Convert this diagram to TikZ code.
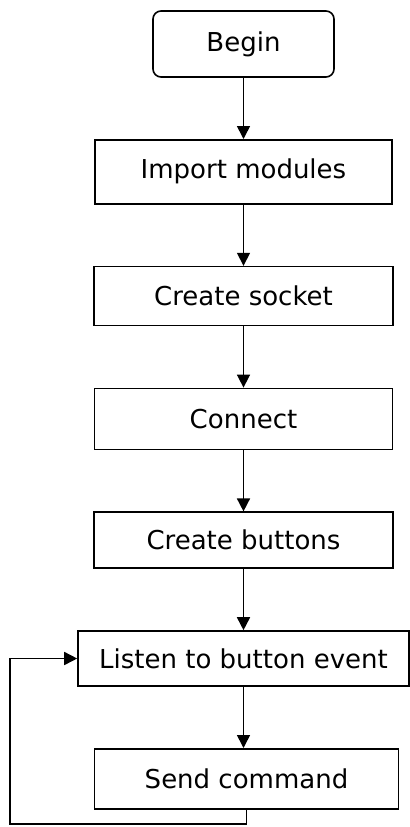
\documentclass[tikz,border=0pt]{standalone}
\usepackage{fontspec}
\setmainfont{DejaVu Sans}
\usetikzlibrary{arrows.meta,positioning}

\begin{document}
\begin{tikzpicture}[
    x=0.5pt, y=-0.5pt,
    node distance=30.6pt,
    block/.style={rectangle, draw=black, line width=0.8pt, align=center, inner sep=0pt, font=\fontsize{13}{15}\selectfont},
    startblock/.style={block, rounded corners=4pt},
    arrow/.style={-{Triangle[length=6.5pt,width=6.5pt]}, line width=0.8pt}
]
\useasboundingbox (0,0) rectangle (409,827);
\node[startblock, minimum width=90.5pt, minimum height=33pt] (begin) at (243.5,44) {Begin};
\node[block, below=of begin, minimum width=148.5pt, minimum height=32pt] (import) {Import modules};
\node[block, below=of import, minimum width=149.5pt, minimum height=29.5pt] (socket) {Create socket};
\node[block, below=of socket, minimum width=149pt, minimum height=30.5pt] (connect) {Connect};
\node[block, below=of connect, minimum width=149.5pt, minimum height=28pt] (buttons) {Create buttons};
\node[block, below=of buttons, minimum width=165.5pt, minimum height=27.5pt] (listen) {Listen to button event};
\node[block, below=of listen, xshift=1.5pt, minimum width=152pt, minimum height=30pt] (send) {Send command};
\coordinate (loopcorner) at (10,824);

\draw[arrow] (begin) -- (import);
\draw[arrow] (import) -- (socket);
\draw[arrow] (socket) -- (connect);
\draw[arrow] (connect) -- (buttons);
\draw[arrow] (buttons) -- (listen);
\draw[arrow] (listen) -- (send.north -| listen.south);
\draw[arrow] (send.south) |- (loopcorner) |- (listen.west);
\end{tikzpicture}
\end{document}
